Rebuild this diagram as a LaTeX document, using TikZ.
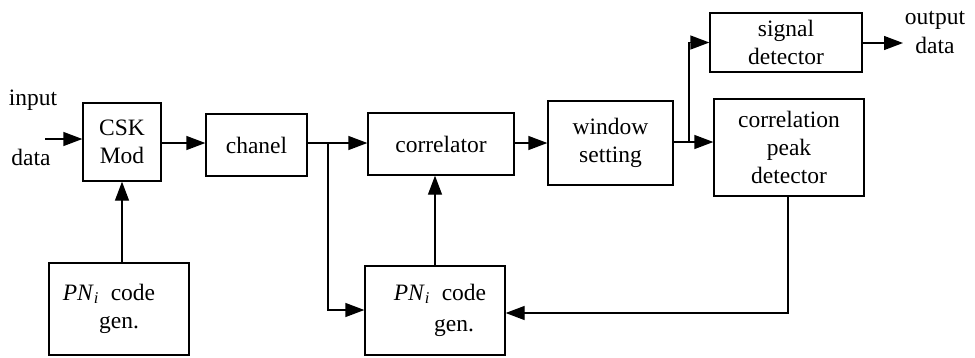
\documentclass[tikz,border=0pt]{standalone}
\usepackage{fontspec}
\setmainfont{Liberation Serif}
\usetikzlibrary{arrows.meta,calc}
\tikzset{
  blk/.style={draw, line width=1.3bp, inner sep=0pt, align=center,
    font=\fontsize{23.5bp}{28bp}\selectfont},
  txt/.style={inner sep=0pt, align=center, font=\fontsize{23.5bp}{28bp}\selectfont},
  conn/.style={line width=1.3bp, -{Triangle[length=19bp,width=14bp]}},
  wire/.style={line width=1.3bp}
}
\begin{document}
\begin{tikzpicture}[x=1bp,y=-1bp]
\useasboundingbox (0,0) rectangle (975,357);
% blocks
\node[blk, minimum width=78bp, minimum height=78bp] (csk) at (122,142) {CSK\\Mod};
\node[blk, minimum width=101bp, minimum height=62bp] (chan) at (256.5,145) {chanel};
\node[blk, minimum width=146bp, minimum height=62bp] (corr) at (441,144) {correlator};
\node[blk, minimum width=125bp, minimum height=84bp] (win) at (610.5,143) {window\\setting};
\node[blk, minimum width=152bp, minimum height=59bp] (sig) at (786,42.5) {signal\\detector};
\node[blk, minimum width=150bp, minimum height=97bp] (peak) at (789,147.5) {correlation\\peak\\detector};
\node[blk, minimum width=140bp, minimum height=92bp] (pn1) at (119,309) {};
\node[blk, minimum width=140bp, minimum height=89bp] (pn2) at (435,310.5) {};
% texts in PN boxes
\node[txt, anchor=base] (pn1a) at (109,300) {\textit{PN}\textsubscript{\textit{i}}\ \ code};
\node[txt, anchor=base] (pn1b) at (119,328) {gen.};
\node[txt, anchor=base] (pn2a) at (440,300) {\textit{PN}\textsubscript{\textit{i}}\ \ code};
\node[txt, anchor=base] (pn2b) at (454,331) {gen.};
% outer labels
\node[txt] (inlab) at (33,100) {input};
\node[txt] (indata) at (31,157) {data};
\node[txt] (outlab) at (935,20) {output};
\node[txt] (outdata) at (935,45) {data};
% coordinates
\coordinate (in) at (45,139);
\coordinate (out) at (903,43);
\coordinate (j1) at (328,143);
\coordinate (j2) at (689,142);
\coordinate (fb) at (788,313);
% connectors
\draw[conn] (in) -- (in -| csk.west);
\draw[conn] (csk.east |- 0,143) -- (chan.west |- 0,143);
\draw[wire] (chan.east |- j1) -- (j1);
\draw[conn] (j1) -- (corr.west |- j1);
\draw[conn] (j1) -- (j1 |- 0,310) -- (pn2.west |- 0,310);
\draw[conn] (pn1.north -| csk.south) -- (csk.south);
\draw[conn] (pn2.north) -- (pn2.north |- corr.south);
\draw[conn] (corr.east |- 0,143) -- (win.west |- 0,143);
\draw[wire] (win.east |- j2) -- (j2);
\draw[conn] (j2) -- (peak.west |- j2);
\draw[conn] (j2) -- (j2 |- sig.west) -- (sig.west);
\draw[conn] (sig.east |- out) -- (out);
\draw[conn] (peak.south -| fb) -- (fb) -- (pn2.east |- fb);
\end{tikzpicture}
\end{document}
